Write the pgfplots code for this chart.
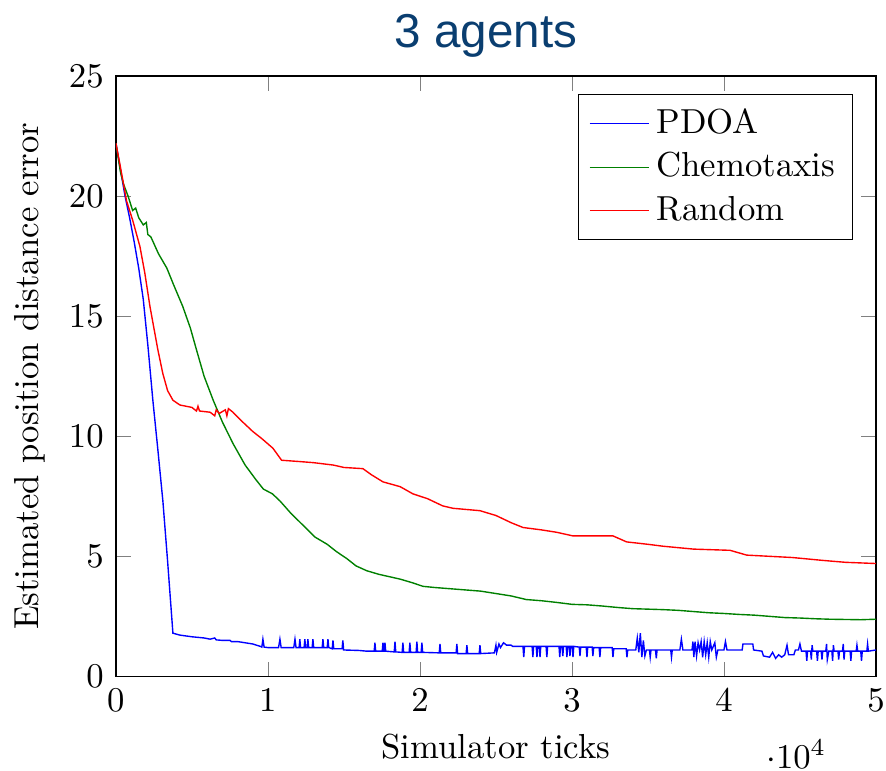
\documentclass[border=0pt]{standalone}
\usepackage{pgfplots}
\pgfplotsset{compat=1.18}
\usepackage{fontspec}
\newfontfamily\titlefont{Liberation Sans}
\definecolor{titleblue}{RGB}{10,62,112}
\definecolor{cgreen}{RGB}{0,128,0}
\begin{document}
\begin{tikzpicture}
\begin{axis}[
  scale only axis,
  width=219pt, height=173pt,
  xmin=0, xmax=50000, ymin=0, ymax=25,
  xtick={0,10000,20000,30000,40000,50000},
  ytick={0,5,10,15,20,25},
  xlabel={Simulator ticks},
  xlabel style={at={(0.5,0)}, anchor=base, yshift=-23.6pt, inner sep=0pt},
  every x tick scale label/.style={at={(1,0)}, anchor=base east, xshift=-14.1pt, yshift=-26.5pt, inner sep=0pt},
  ylabel={Estimated position distance error},
  title={\titlefont\fontsize{13.7}{15}\selectfont\color{titleblue}3 agents},
  every axis title/.style={at={(0.487,1)}, anchor=base, yshift=8.1pt, inner sep=0pt},
  legend pos=north east,
  legend cell align=left,
]
\addplot[blue] coordinates {
(0,22.2)(300,21.1)(600,20.0)(900,19.1)(1200,18.1)(1500,17.0)(1800,15.7)(2100,13.8)(2430,11.5)(2750,9.5)(3090,7.3)(3400,4.8)(3750,1.8)
(4200,1.72)(5000,1.65)(5800,1.6)(6200,1.55)(6500,1.6)(6600,1.52)(7000,1.5)(7500,1.5)(7600,1.45)(8000,1.45)(8500,1.4)(9000,1.35)(9500,1.25)
(9600,1.22)(9670,1.55)(9750,1.22)(10000,1.2)(10700,1.2)(10790,1.55)(10870,1.2)(11700,1.2)(11780,1.55)(11850,1.2)(12050,1.2)(12100,1.55)(12150,1.2)
(12380,1.2)(12430,1.55)(12480,1.2)(12580,1.2)(12630,1.55)(12680,1.2)(12910,1.2)(12960,1.55)(13010,1.2)(13570,1.2)(13620,1.55)(13670,1.2)
(13900,1.2)(13950,1.55)(14000,1.2)(14230,1.15)(14280,1.5)(14330,1.15)(14880,1.15)(14930,1.5)(14980,1.1)(16000,1.08)(16500,1.05)
(16990,1.05)(17040,1.4)(17090,1.05)(17520,1.05)(17570,1.4)(17620,1.05)(17650,1.05)(17700,1.4)(17750,1.05)(18310,1.02)(18360,1.45)(18410,1.02)
(18830,1.0)(18880,1.4)(18930,1.0)(19290,1.0)(19340,1.4)(19390,1.0)(19750,1.0)(19800,1.45)(19850,1.0)(20080,1.0)(20130,1.4)(20180,1.0)
(21270,0.98)(21320,1.35)(21370,0.98)(22380,0.98)(22430,1.35)(22480,0.95)(23040,0.95)(23090,1.3)(23140,0.95)(23900,0.95)(23950,1.3)(24000,0.95)
(24900,0.98)(25000,1.3)(25050,1.0)(25200,1.35)(25300,1.2)(25500,1.4)(25700,1.3)(26000,1.3)(26100,1.25)
(26780,1.25)(26830,0.8)(26880,1.25)(27380,1.25)(27430,0.8)(27480,1.25)(27650,1.25)(27700,0.8)(27750,1.25)(27850,1.25)(27900,0.8)(27950,1.25)
(28300,1.25)(28350,0.8)(28400,1.25)(29150,1.25)(29200,0.8)(29250,1.25)(29350,1.25)(29400,0.85)(29450,1.25)(29620,1.25)(29670,0.8)(29720,1.25)
(29820,1.25)(29870,0.85)(29920,1.25)(30020,1.25)(30070,0.8)(30120,1.25)(30480,1.22)(30530,0.85)(30580,1.22)(30940,1.22)(30990,0.8)(31040,1.22)
(31330,1.22)(31380,0.85)(31430,1.2)(31790,1.2)(31840,0.8)(31890,1.2)(32650,1.2)(32700,0.8)(32750,1.15)(33570,1.15)(33620,0.8)(33670,1.1)
(34200,1.1)(34300,1.6)(34400,1.0)(34500,1.8)(34600,0.8)(34700,1.5)(34800,0.85)(34900,1.1)(35100,1.1)(35150,0.8)(35200,1.1)(35500,1.1)(35550,0.75)(35600,1.1)
(36500,1.1)(36550,0.8)(36600,1.1)(37100,1.1)(37200,1.55)(37300,1.1)(37900,1.1)(37960,1.45)(38020,0.8)(38100,1.45)(38200,0.85)(38300,1.4)(38400,1.1)
(38500,1.45)(38600,0.8)(38700,1.45)(38800,0.9)(38900,1.4)(39000,0.8)(39100,1.45)(39200,1.1)(39400,1.4)(39500,0.8)(39600,1.1)(40000,1.1)(40100,1.45)(40200,1.1)
(40400,1.1)(41200,1.1)(41250,1.35)(41900,1.35)(41950,1.1)(42500,1.05)(42600,0.85)(43000,0.8)(43200,1.0)(43400,0.75)(43600,0.9)(43800,0.8)(44000,0.9)
(44150,1.3)(44250,0.9)(44600,0.9)(44700,1.1)(44900,1.1)(45000,1.35)(45100,1.05)(45400,1.05)(45450,0.65)(45500,1.05)(45700,1.05)(45750,0.7)(45800,1.3)(45850,1.05)
(46100,1.05)(46150,0.65)(46200,1.05)(46400,1.05)(46450,0.7)(46500,1.05)(46700,1.05)(46750,1.35)(46800,0.7)(46900,1.05)(47100,1.05)(47150,0.65)(47200,1.3)(47250,1.05)
(47500,1.05)(47550,0.7)(47600,1.05)(47800,1.05)(47850,1.35)(47900,0.7)(47950,1.05)(48300,1.05)(48350,0.65)(48400,1.05)(48700,1.05)(48750,1.3)(48800,1.05)
(49000,1.05)(49050,0.65)(49100,1.05)(49400,1.05)(49450,1.35)(49500,1.05)(50000,1.1)
};
\addlegendentry{PDOA}
\addplot[cgreen] coordinates {
(0,22.2)(300,21.0)(500,20.5)(800,20.0)(1100,19.4)(1300,19.5)(1500,19.1)(1800,18.8)(2000,18.9)(2100,18.4)(2300,18.3)(2800,17.6)(3350,17.0)
(3800,16.3)(4400,15.4)(4900,14.5)(5300,13.6)(5800,12.5)(6400,11.5)(7000,10.6)(7700,9.7)(8500,8.8)(9200,8.2)(9700,7.8)(10300,7.6)(10800,7.3)
(11500,6.8)(12300,6.3)(13100,5.8)(13900,5.5)(14500,5.2)(15200,4.9)(15800,4.6)(16500,4.4)(17300,4.25)(18000,4.15)(18700,4.05)(19500,3.9)
(20200,3.75)(21000,3.7)(22000,3.65)(23000,3.6)(24000,3.55)(25000,3.45)(26000,3.35)(27000,3.2)(28000,3.15)(29000,3.08)(30000,3.0)
(31000,2.98)(32000,2.93)(33000,2.87)(34000,2.82)(35000,2.8)(36000,2.78)(37000,2.75)(38000,2.7)(39000,2.65)(40000,2.62)(41000,2.58)
(42000,2.55)(43000,2.5)(44000,2.45)(45000,2.43)(46000,2.4)(47000,2.38)(48000,2.37)(49000,2.36)(50000,2.38)
};
\addlegendentry{Chemotaxis}
\addplot[red] coordinates {
(0,22.2)(300,21.2)(700,19.8)(1100,19.0)(1580,17.9)(1900,16.8)(2240,15.4)(2500,14.5)(2760,13.6)(3090,12.6)(3400,11.9)(3750,11.5)
(4210,11.3)(5000,11.2)(5300,11.05)(5400,11.25)(5500,11.05)(6200,11.0)(6500,10.85)(6600,11.1)(6800,10.95)(7200,11.1)(7300,10.85)(7400,11.15)(7700,11.0)
(8160,10.7)(9000,10.2)(9600,9.9)(10330,9.5)(10900,9.0)(12000,8.95)(13000,8.9)(14300,8.8)(15000,8.7)(16250,8.65)(16800,8.4)(17570,8.1)
(18700,7.9)(19540,7.6)(20500,7.4)(21500,7.1)(22170,7.0)(23950,6.9)(25000,6.7)(26000,6.4)(26780,6.2)(28000,6.1)(29000,6.0)(30070,5.85)
(32700,5.85)(33600,5.6)(35000,5.5)(36000,5.42)(38000,5.3)(40400,5.25)(41500,5.05)(43000,5.0)(44500,4.95)(46500,4.83)(48000,4.75)(50000,4.7)
};
\addlegendentry{Random}
\end{axis}
\pgfresetboundingbox
\path ([shift={(-33.4pt,-27pt)}]current axis.south west) rectangle ([shift={(2.9pt,21.9pt)}]current axis.north east);
\end{tikzpicture}
\end{document}
